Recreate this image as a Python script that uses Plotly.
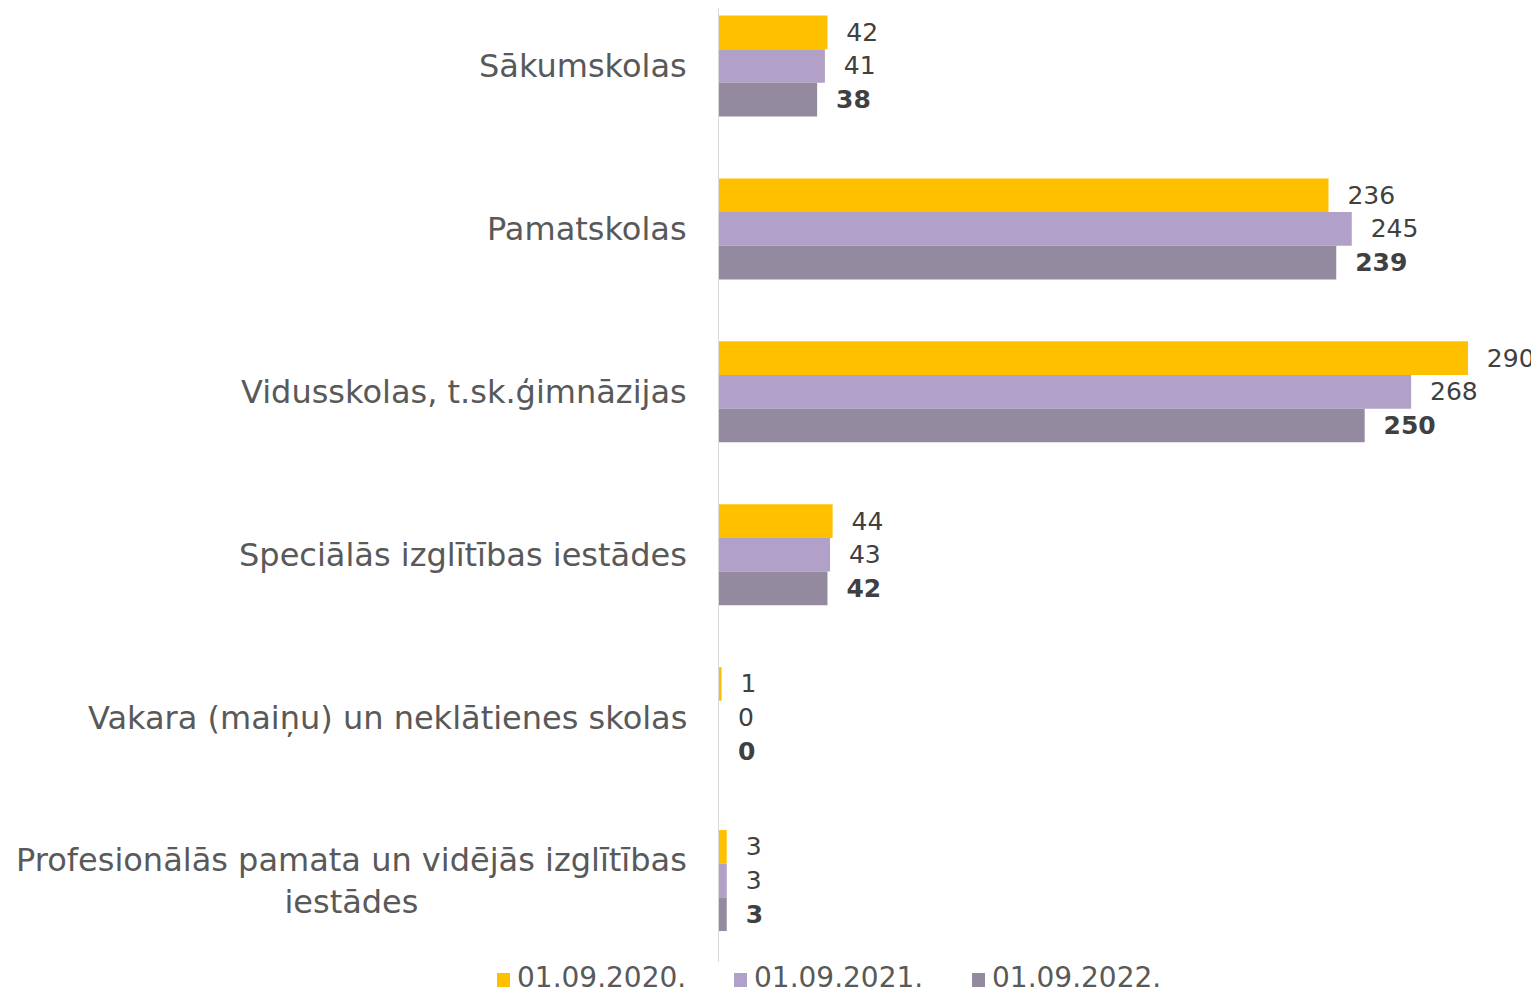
import plotly.graph_objects as go

categories = [
    "Sākumskolas",
    "Pamatskolas",
    "Vidusskolas, t.sk.ģimnāzijas",
    "Speciālās izglītības iestādes",
    "Vakara (maiņu) un neklātienes skolas",
    "Profesionālās pamata un vidējās izglītības<br>iestādes",
]
series_names = ["01.09.2020.", "01.09.2021.", "01.09.2022."]
v2020 = [42, 236, 290, 44, 1, 3]
v2021 = [41, 245, 268, 43, 0, 3]
v2022 = [38, 239, 250, 42, 0, 3]
colors = ["#FFC000", "#B1A0C7", "#948A9F"]

FONT = "DejaVu Sans"
fig = go.Figure()
for name, vals, col, tmpl in zip(series_names, [v2020, v2021, v2022], colors,
                                 ["  %{x}", "  %{x}", "  <b>%{x}</b>"]):
    fig.add_trace(go.Bar(
        y=list(range(len(categories))), x=vals, name=name, orientation="h",
        marker=dict(color=col, line=dict(width=0)),
        texttemplate=tmpl, textposition="outside", cliponaxis=False,
        textfont=dict(family=FONT, size=25, color="#404040"),
        showlegend=False,
    ))

for i, c in enumerate(categories):
    fig.add_annotation(
        x=0, xref="paper", xshift=-30, y=i, yref="y", text=c,
        xanchor="right", yanchor="middle", align="center", showarrow=False,
        font=dict(family=FONT, size=32, color="#595959"),
    )

# custom legend below the plot area (text + square swatches)
legend_text_x = [-0.2475, 0.0415, 0.3317]
legend_marker_x = [-0.2628, 0.0262, 0.3165]
for name, col, tx, mx in zip(series_names, colors, legend_text_x, legend_marker_x):
    fig.add_annotation(
        x=tx, xref="paper", y=0, yref="paper", yshift=-15, text=name,
        xanchor="left", yanchor="middle", showarrow=False, height=30,
        valign="middle", borderpad=0,
        font=dict(family=FONT, size=28, color="#595959"),
    )
    fig.add_shape(
        type="rect", xref="paper", yref="paper",
        xsizemode="pixel", ysizemode="pixel", xanchor=mx, yanchor=0,
        x0=-6.5, x1=6.5, y0=-11, y1=-25,
        fillcolor=col, line=dict(width=0),
    )

# page body has an 8px margin; size the figure to compensate
fig.update_layout(
    width=1531, height=986,
    margin=dict(l=711, r=0, t=0, b=32),
    plot_bgcolor="white", paper_bgcolor="white",
    barmode="group", bargap=0.38, bargroupgap=0,
    showlegend=False,
    xaxis=dict(range=[0, 317.5], showgrid=False, showticklabels=False,
               zeroline=False, showline=False, ticks="", automargin=False),
    yaxis=dict(range=[5.5, -0.356], showticklabels=False, showgrid=False,
               zeroline=False, showline=True, linecolor="#D9D9D9", linewidth=1,
               ticks="", automargin=False),
)
fig.write_html("out.html")
